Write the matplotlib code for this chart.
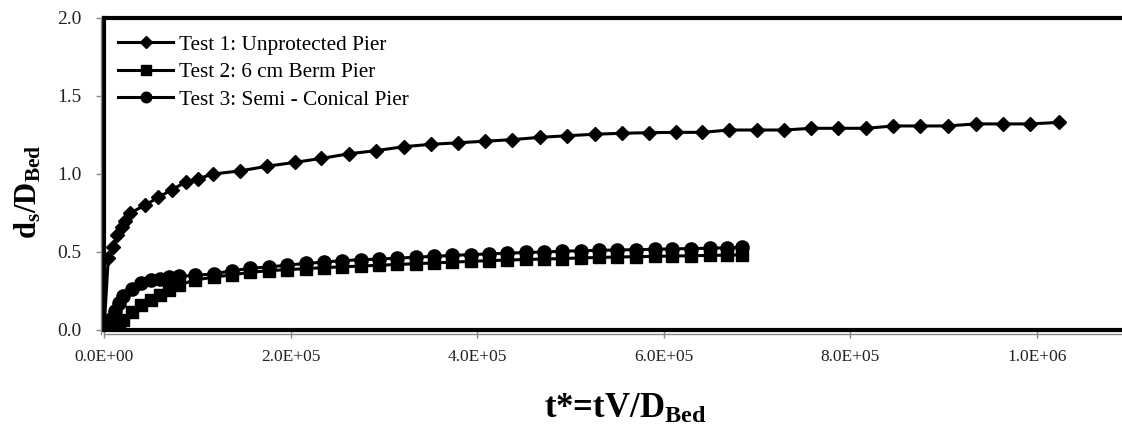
import matplotlib
matplotlib.use("Agg")
import matplotlib.pyplot as plt
from matplotlib.ticker import FuncFormatter
from matplotlib.lines import Line2D

plt.rcParams['font.family'] = ['Liberation Serif', 'DejaVu Serif']
plt.rcParams['mathtext.fontset'] = 'custom'
plt.rcParams['mathtext.rm'] = 'Liberation Serif'
plt.rcParams['mathtext.it'] = 'Liberation Serif:italic'
plt.rcParams['mathtext.bf'] = 'Liberation Serif:bold'

# ---- data ----
t1_x = [0, 4.6e3, 10e3, 13.6e3, 19e3, 22.5e3, 28e3, 44e3, 58e3, 73e3, 88e3, 101e3, 117e3,
        146e3, 175e3, 205e3, 233e3, 263e3, 292e3, 321e3, 350e3, 379e3, 408e3, 437e3, 467e3,
        496e3, 526e3, 555e3, 584e3, 613e3, 641e3, 670e3, 700e3, 729e3, 758e3, 787e3, 817e3,
        846e3, 874e3, 904e3, 934e3, 963e3, 992e3, 1024e3]
t1_y = [0.0, 0.46, 0.53, 0.61, 0.66, 0.70, 0.75, 0.80, 0.85, 0.90, 0.95, 0.97, 1.00,
        1.02, 1.05, 1.075, 1.10, 1.13, 1.15, 1.175, 1.19, 1.20, 1.21, 1.22, 1.235,
        1.245, 1.255, 1.261, 1.265, 1.267, 1.267, 1.282, 1.282, 1.282, 1.293, 1.293, 1.293,
        1.308, 1.308, 1.308, 1.321, 1.321, 1.321, 1.331]

t23_x = [0, 4e3, 8e3, 12e3, 16e3, 20e3, 30e3, 40e3, 50e3, 60e3, 70e3, 80e3, 98e3, 118e3,
         137e3, 157e3, 177e3, 196e3, 216e3, 236e3, 255e3, 275e3, 295e3, 314e3, 334e3, 354e3,
         373e3, 393e3, 413e3, 432e3, 452e3, 472e3, 491e3, 511e3, 531e3, 550e3, 570e3, 590e3,
         609e3, 629e3, 649e3, 668e3, 684e3]
t2_y = [0.0, 0.01, 0.02, 0.035, 0.05, 0.065, 0.115, 0.16, 0.19, 0.225, 0.255, 0.29, 0.32, 0.34,
        0.353, 0.37, 0.38, 0.387, 0.393, 0.40, 0.405, 0.41, 0.415, 0.42, 0.425, 0.43,
        0.435, 0.44, 0.445, 0.448, 0.452, 0.455, 0.458, 0.462, 0.465, 0.468, 0.47, 0.472,
        0.474, 0.476, 0.478, 0.48, 0.482]
t3_y = [0.0, 0.03, 0.07, 0.12, 0.17, 0.22, 0.265, 0.30, 0.32, 0.33, 0.34, 0.345, 0.35, 0.36,
        0.38, 0.395, 0.405, 0.415, 0.427, 0.435, 0.445, 0.45, 0.455, 0.46, 0.467, 0.472,
        0.478, 0.483, 0.488, 0.492, 0.497, 0.50, 0.505, 0.508, 0.511, 0.513, 0.515, 0.517,
        0.52, 0.522, 0.524, 0.527, 0.53]

labels = ["Test 1: Unprotected Pier", "Test 2: 6 cm Berm Pier", "Test 3: Semi - Conical Pier"]
x_ticks = [0, 2e5, 4e5, 6e5, 8e5, 1e6]
y_ticks = [0.0, 0.5, 1.0, 1.5, 2.0]

# ---- figure ----
W, H = 1122, 434
fig = plt.figure(figsize=(W / 100, H / 100), dpi=100)
ax = fig.add_axes([104 / W, (H - 330) / H, (W - 104) / W, (330 - 18) / H])

ax.plot(t1_x, t1_y, color='black', lw=2.2, marker='D', ms=7.5, label=labels[0], zorder=3)
ax.plot(t23_x, t2_y, color='black', lw=2.2, marker='s', ms=8.5, label=labels[1], zorder=3)
ax.plot(t23_x, t3_y, color='black', lw=2.2, marker='o', ms=9.5, label=labels[2], zorder=3)

ax.set_xlim(0, 1.091e6)
ax.set_ylim(0, 2.0)
ax.set_xticks(x_ticks)
ax.set_yticks(y_ticks)
ax.xaxis.set_major_formatter(FuncFormatter(lambda v, p: f"{v:.1E}"))
ax.yaxis.set_major_formatter(FuncFormatter(lambda v, p: f"{v:.1f}"))
ax.tick_params(axis='both', direction='out', length=6, width=1, color='#888888',
               labelcolor='#222222')
ax.tick_params(axis='x', labelsize=12.5, pad=8)
ax.tick_params(axis='y', labelsize=14, pad=10)

for s in ['top', 'left', 'bottom']:
    ax.spines[s].set_linewidth(3)
    ax.spines[s].set_color('black')
ax.spines['right'].set_visible(False)
for sp in ax.spines.values():
    sp.set_zorder(5)
    sp.set_clip_on(False)

# thin grey axis line just under the plot-area border
fig.add_artist(Line2D([104 / W, 1.0], [(H - 333.5) / H, (H - 333.5) / H],
                      color='#888888', lw=1.0, transform=fig.transFigure))
fig.add_artist(Line2D([100.5 / W, 100.5 / W], [(H - 333.5) / H, (H - 18) / H],
                      color='#888888', lw=1.0, transform=fig.transFigure))

leg = ax.legend(loc='upper left', bbox_to_anchor=(118 / W, (H - 35) / H),
                bbox_transform=fig.transFigure, frameon=False, fontsize=15.3,
                handlelength=2.6, handletextpad=0.25, labelspacing=0.36,
                borderpad=0, borderaxespad=0, markerscale=0.8)

fig.text(28 / W, (H - 192) / H, r'$\mathbf{d_s/D_{Bed}}$', rotation=90,
         ha='center', va='center', fontsize=22)
fig.text(625 / W, (H - 409) / H, r't*=tV/D$_{\mathbf{Bed}}$', fontweight='bold',
         ha='center', va='center', fontsize=25)

fig.savefig('out.png', dpi=100)
